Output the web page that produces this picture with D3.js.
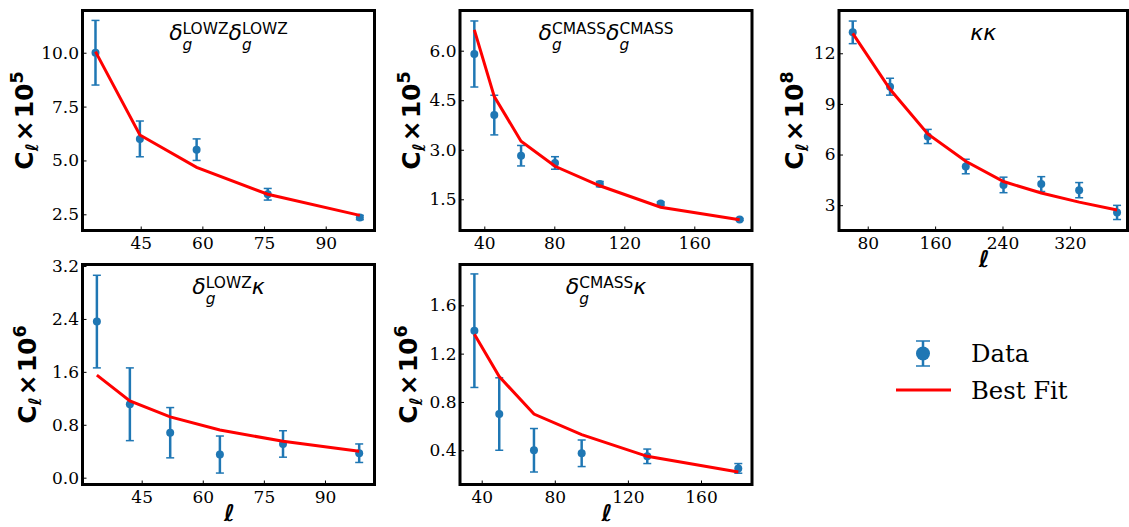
<!DOCTYPE html>
<html>
<head>
<meta charset="utf-8">
<script src="https://cdn.jsdelivr.net/npm/d3@7"></script>
<style>
  body { margin: 0; background: #fff; }
  svg { display: block; }
</style>
</head>
<body>
<svg id="chart"></svg>
<script>
// Values
const lowzLowzEll = [34, 44.8, 58.6, 75.9, 98.3];
const lowzLowzCl  = [10.0, 6.0, 5.5, 3.43, 2.35];
const lowzLowzErr = [1.5, 0.83, 0.5, 0.27, 0.1];
const lowzLowzFit = [10.05, 6.18, 4.68, 3.43, 2.45];

const cmassCmassEll = [34.3, 45.7, 61, 80.4, 106, 140.8, 185.9];
const cmassCmassCl  = [5.9, 4.05, 2.82, 2.6, 1.96, 1.37, 0.89];
const cmassCmassErr = [1.0, 0.6, 0.31, 0.19, 0.08, 0.05, 0.03];
const cmassCmassFit = [6.63, 4.61, 3.26, 2.5, 1.91, 1.26, 0.88];

const kappaKappaEll = [62.2, 106.5, 151.3, 196.4, 241.2, 286, 331, 376];
const kappaKappaCl  = [13.24, 10.02, 7.07, 5.29, 4.2, 4.25, 3.89, 2.57];
const kappaKappaErr = [0.67, 0.5, 0.42, 0.43, 0.46, 0.44, 0.45, 0.42];
const kappaKappaFit = [13.18, 9.87, 7.22, 5.6, 4.4, 3.72, 3.18, 2.72];

const lowzKappaEll = [34, 42.1, 52, 64.2, 79.7, 98.4];
const lowzKappaCl  = [2.36, 1.11, 0.68, 0.35, 0.51, 0.37];
const lowzKappaErr = [0.7, 0.55, 0.38, 0.28, 0.2, 0.14];
const lowzKappaFit = [1.55, 1.16, 0.92, 0.72, 0.55, 0.40];

const cmassKappaEll = [36, 49.6, 68.6, 94.7, 130.6, 180.4];
const cmassKappaCl  = [1.39, 0.70, 0.40, 0.375, 0.35, 0.25];
const cmassKappaErr = [0.47, 0.3, 0.18, 0.11, 0.06, 0.04];
const cmassKappaFit = [1.36, 1.01, 0.70, 0.53, 0.35, 0.22];

// Tick values
const ticksX45 = [45, 60, 75, 90];
const ticksX40 = [40, 80, 120, 160];
const ticksX80 = [80, 160, 240, 320];
const ticksY1 = [2.5, 5.0, 7.5, 10.0];
const ticksY2 = [1.5, 3.0, 4.5, 6.0];
const ticksY3 = [3, 6, 9, 12];
const ticksY4 = [0.0, 0.8, 1.6, 2.4, 3.2];
const ticksY5 = [0.4, 0.8, 1.2, 1.6];

const legendLabels = ["Data", "Best Fit"];

const W = 1129, H = 527;
const blue = "#1f77b4", red = "#ff0000";
const serif = "'DejaVu Serif', serif";
const sans = "'DejaVu Sans', sans-serif";

const panels = [
  {ell: lowzLowzEll, cl: lowzLowzCl, err: lowzLowzErr, fit: lowzLowzFit,
   xTicks: ticksX45, yTicks: ticksY1, yFmt: ".1f", xDom: [30.84, 101.87], yDom: [1.748, 11.96],
   box: [82.5, 10.5, 374.5, 230.5], power: "5", labelGap: 57.5, xLabel: false,
   title: [{base: "δ", sub: "g", sup: "LOWZ"}, {base: "δ", sub: "g", sup: "LOWZ"}]},
  {ell: cmassCmassEll, cl: cmassCmassCl, err: cmassCmassErr, fit: cmassCmassFit,
   xTicks: ticksX40, yTicks: ticksY2, yFmt: ".1f", xDom: [26.11, 192.97], yDom: [0.555, 7.217],
   box: [460, 10.5, 752, 230.5], power: "5", labelGap: 48.5, xLabel: false,
   title: [{base: "δ", sub: "g", sup: "CMASS"}, {base: "δ", sub: "g", sup: "CMASS"}]},
  {ell: kappaKappaEll, cl: kappaKappaCl, err: kappaKappaErr, fit: kappaKappaFit,
   xTicks: ticksX80, yTicks: ticksY3, yFmt: "d", xDom: [45.9, 388.4], yDom: [1.5, 14.534],
   box: [839, 10.5, 1127.5, 230.5], power: "8", labelGap: 44, xLabel: true,
   title: [{base: "κκ"}]},
  {ell: lowzKappaEll, cl: lowzKappaCl, err: lowzKappaErr, fit: lowzKappaFit,
   xTicks: ticksX45, yTicks: ticksY4, yFmt: ".1f", xDom: [30.47, 102.16], yDom: [-0.103, 3.223],
   box: [82.5, 264.5, 374.5, 484.5], power: "6", labelGap: 54.5, xLabel: true,
   title: [{base: "δ", sub: "g", sup: "LOWZ"}, {base: "κ"}]},
  {ell: cmassKappaEll, cl: cmassKappaCl, err: cmassKappaErr, fit: cmassKappaFit,
   xTicks: ticksX40, yTicks: ticksY5, yFmt: ".1f", xDom: [28.13, 187.9], yDom: [0.1166, 1.938],
   box: [460, 264.5, 752, 484.5], power: "6", labelGap: 51, xLabel: true,
   title: [{base: "δ", sub: "g", sup: "CMASS"}, {base: "κ"}]}
];

const svg = d3.select("#chart").attr("width", W).attr("height", H);
svg.append("rect").attr("width", W).attr("height", H).attr("fill", "#fff");

function drawTitle(g, parts, cx, baseline) {
  const fs = 22;
  const t = g.append("g").attr("font-family", sans);
  let x = 0;
  parts.forEach(p => {
    const m = t.append("text").attr("x", x).attr("y", 0)
      .attr("font-size", fs).attr("font-style", "italic").text(p.base);
    x += m.node().getComputedTextLength();
    let w = 0;
    if (p.sup) {
      const s = t.append("text").attr("x", x).attr("y", -5.5)
        .attr("font-size", fs * 0.7).text(p.sup);
      w = Math.max(w, s.node().getComputedTextLength());
    }
    if (p.sub) {
      const s = t.append("text").attr("x", x).attr("y", 10.2)
        .attr("font-size", fs * 0.7).attr("font-style", "italic").text(p.sub);
      w = Math.max(w, s.node().getComputedTextLength());
    }
    x += w;
  });
  t.attr("transform", `translate(${cx - x / 2},${baseline})`);
}

panels.forEach(p => {
  const [x0, y0, x1, y1] = p.box;
  const x = d3.scaleLinear().domain(p.xDom).range([x0, x1]);
  const y = d3.scaleLinear().domain(p.yDom).range([y1, y0]);
  const g = svg.append("g");

  // axes with inward ticks
  g.append("g")
    .attr("transform", `translate(0,${y1})`)
    .call(d3.axisBottom(x).tickValues(p.xTicks).tickSizeInner(-4).tickSizeOuter(0).tickPadding(6).tickFormat(d3.format("d")))
    .call(a => a.select(".domain").remove())
    .call(a => a.selectAll("text").attr("font-family", serif).attr("font-size", 17).attr("fill", "#000"))
    .call(a => a.selectAll("line").attr("stroke", "#000").attr("stroke-width", 1));

  g.append("g")
    .attr("transform", `translate(${x0},0)`)
    .call(d3.axisLeft(y).tickValues(p.yTicks).tickSizeInner(-4).tickSizeOuter(0).tickPadding(3.5).tickFormat(d3.format(p.yFmt)))
    .call(a => a.select(".domain").remove())
    .call(a => a.selectAll("text").attr("font-family", serif).attr("font-size", 17).attr("fill", "#000"))
    .call(a => a.selectAll("line").attr("stroke", "#000").attr("stroke-width", 1));

  const pts = p.ell.map((e, i) => ({ell: e, cl: p.cl[i], err: p.err[i], fit: p.fit[i]}));

  // error bars
  const eb = g.append("g").selectAll("g").data(pts).join("g");
  eb.append("line")
    .attr("x1", d => x(d.ell)).attr("x2", d => x(d.ell))
    .attr("y1", d => y(d.cl - d.err)).attr("y2", d => y(d.cl + d.err))
    .attr("stroke", blue).attr("stroke-width", 2.5);
  [-1, 1].forEach(s => {
    eb.append("line")
      .attr("x1", d => x(d.ell) - 4).attr("x2", d => x(d.ell) + 4)
      .attr("y1", d => y(d.cl + s * d.err)).attr("y2", d => y(d.cl + s * d.err))
      .attr("stroke", blue).attr("stroke-width", 1.5);
  });
  eb.append("circle")
    .attr("cx", d => x(d.ell)).attr("cy", d => y(d.cl)).attr("r", 4).attr("fill", blue);

  // best fit
  g.append("path")
    .datum(pts)
    .attr("d", d3.line().x(d => x(d.ell)).y(d => y(d.fit)))
    .attr("fill", "none").attr("stroke", red).attr("stroke-width", 3);

  // frame
  g.append("rect")
    .attr("x", x0).attr("y", y0).attr("width", x1 - x0).attr("height", y1 - y0)
    .attr("fill", "none").attr("stroke", "#000").attr("stroke-width", 3);

  drawTitle(g, p.title, (x0 + x1) / 2, y0 + 29);

  // y label  C_ell x 10^n
  const yl = g.append("text")
    .attr("transform", `translate(${x0 - p.labelGap + 8},${(y0 + y1) / 2}) rotate(-90)`)
    .attr("text-anchor", "middle")
    .attr("font-family", sans).attr("font-weight", "bold").attr("font-size", 25);
  yl.append("tspan").text("C");
  yl.append("tspan").attr("font-size", 17).attr("font-style", "italic").attr("dy", 5).text("ℓ");
  yl.append("tspan").attr("dy", -5).attr("dx", 2).text("×");
  yl.append("tspan").attr("dx", 2).text("10");
  yl.append("tspan").attr("font-size", 17.5).attr("dy", -10).text(p.power);

  if (p.xLabel) {
    g.append("text")
      .attr("x", (x0 + x1) / 2 + 1).attr("y", y1 + 36)
      .attr("text-anchor", "middle")
      .attr("font-family", sans).attr("font-weight", "bold").attr("font-style", "italic")
      .attr("font-size", 23).text("ℓ");
  }
});

// legend
const lg = svg.append("g");
lg.append("line").attr("x1", 923).attr("x2", 923).attr("y1", 341).attr("y2", 366)
  .attr("stroke", blue).attr("stroke-width", 2.5);
[341, 366].forEach(yy => lg.append("line").attr("x1", 916).attr("x2", 930).attr("y1", yy).attr("y2", yy)
  .attr("stroke", blue).attr("stroke-width", 1.5));
lg.append("circle").attr("cx", 923).attr("cy", 353.5).attr("r", 7).attr("fill", blue);
lg.append("line").attr("x1", 896).attr("x2", 951).attr("y1", 390).attr("y2", 390)
  .attr("stroke", red).attr("stroke-width", 3);
lg.selectAll("text.leg").data(legendLabels).join("text")
  .attr("class", "leg")
  .attr("x", 971).attr("y", (d, i) => 362 + i * 37)
  .attr("font-family", serif).attr("font-size", 24.3).attr("fill", "#000")
  .text(d => d);
</script>
</body>
</html>
